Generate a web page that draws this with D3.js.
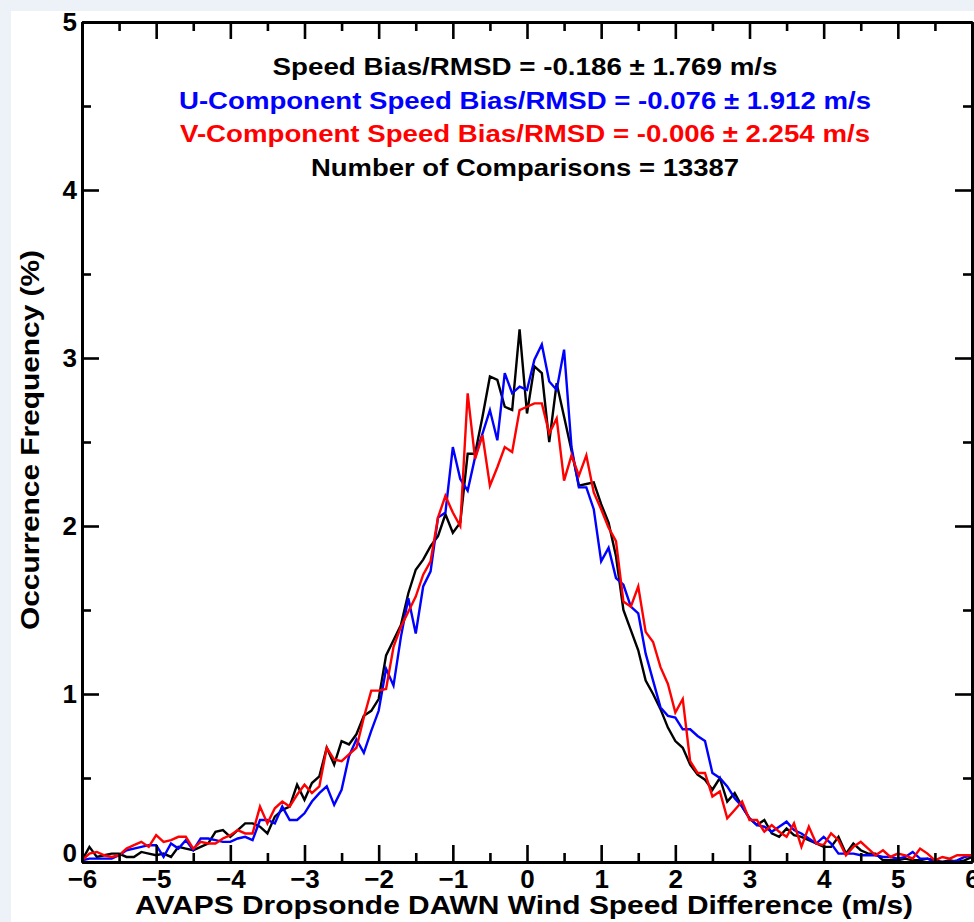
<!DOCTYPE html>
<html>
<head>
<meta charset="utf-8">
<script src="https://cdn.jsdelivr.net/npm/d3@7"></script>
<style>
  html, body { margin: 0; padding: 0; background: #edf2f8; }
  svg { display: block; font-family: "Liberation Sans", Arial, sans-serif; font-weight: bold; }
</style>
</head>
<body>
<svg id="chart" width="974" height="922"></svg>
<script>
// Histogram of dropsonde minus DAWN wind differences, 0.1 m/s bins from -6 to 6

const binCenters = d3.range(-60, 61).map(i => i / 10);

// occurrence frequency (%) per bin
const speedFreq = [
  0.01, 0.09, 0.03, 0.04, 0.05, 0.05, 0.03, 0.03, 0.06, 0.05,
  0.04, 0.05, 0.03, 0.09, 0.08, 0.07, 0.09, 0.11, 0.18, 0.19,
  0.15, 0.19, 0.23, 0.23, 0.21, 0.17, 0.27, 0.31, 0.33, 0.46,
  0.37, 0.47, 0.51, 0.68, 0.58, 0.72, 0.70, 0.76, 0.87, 0.90,
  0.97, 1.23, 1.32, 1.41, 1.60, 1.74, 1.80, 1.88, 1.94, 2.07,
  1.96, 2.02, 2.43, 2.43, 2.65, 2.89, 2.87, 2.71, 2.69, 3.17,
  2.67, 2.95, 2.91, 2.50, 2.85, 2.65, 2.45, 2.24, 2.25, 2.26,
  2.13, 2.02, 1.82, 1.50, 1.38, 1.26, 1.08, 1.00, 0.91, 0.80,
  0.72, 0.68, 0.58, 0.52, 0.49, 0.43, 0.50, 0.36, 0.41, 0.33,
  0.26, 0.22, 0.25, 0.17, 0.15, 0.20, 0.16, 0.15, 0.13, 0.11,
  0.09, 0.09, 0.15, 0.05, 0.11, 0.07, 0.05, 0.05, 0.01, 0.01,
  0.01, 0.02, 0.01, 0.01, 0.02, 0.01, 0.00, 0.01, 0.00, 0.01, 0.03
];

const uFreq = [
  0.01, 0.02, 0.02, 0.02, 0.02, 0.04, 0.07, 0.08, 0.09, 0.10,
  0.10, 0.03, 0.11, 0.08, 0.13, 0.07, 0.14, 0.14, 0.13, 0.12,
  0.12, 0.14, 0.15, 0.13, 0.25, 0.25, 0.23, 0.33, 0.25, 0.25,
  0.29, 0.36, 0.41, 0.45, 0.34, 0.43, 0.63, 0.73, 0.65, 0.78,
  0.90, 1.15, 1.05, 1.34, 1.57, 1.36, 1.64, 1.73, 2.05, 2.08,
  2.47, 2.28, 2.21, 2.41, 2.55, 2.69, 2.51, 2.91, 2.79, 2.83,
  2.81, 2.99, 3.08, 2.86, 2.81, 3.05, 2.47, 2.23, 2.23, 2.10,
  1.79, 1.87, 1.69, 1.65, 1.52, 1.48, 1.24, 1.08, 0.92, 0.87,
  0.86, 0.79, 0.79, 0.75, 0.72, 0.53, 0.50, 0.45, 0.38, 0.33,
  0.26, 0.22, 0.21, 0.18, 0.21, 0.24, 0.19, 0.17, 0.14, 0.11,
  0.15, 0.11, 0.05, 0.05, 0.05, 0.04, 0.04, 0.04, 0.03, 0.03,
  0.02, 0.03, 0.06, 0.02, 0.02, 0.00, 0.00, 0.00, 0.01, 0.03, 0.04
];

const vFreq = [
  0.01, 0.05, 0.06, 0.04, 0.03, 0.04, 0.08, 0.10, 0.12, 0.09,
  0.16, 0.12, 0.13, 0.15, 0.15, 0.08, 0.12, 0.11, 0.11, 0.14,
  0.16, 0.19, 0.17, 0.17, 0.33, 0.23, 0.32, 0.36, 0.33, 0.40,
  0.46, 0.41, 0.45, 0.68, 0.61, 0.60, 0.64, 0.68, 0.86, 1.02,
  1.02, 1.03, 1.28, 1.40, 1.49, 1.58, 1.71, 1.79, 2.05, 2.18,
  2.08, 2.00, 2.79, 2.40, 2.54, 2.24, 2.35, 2.47, 2.44, 2.69,
  2.71, 2.73, 2.73, 2.55, 2.64, 2.27, 2.42, 2.30, 2.42, 2.20,
  2.10, 1.99, 1.91, 1.55, 1.52, 1.64, 1.37, 1.31, 1.16, 1.06,
  0.89, 0.97, 0.60, 0.53, 0.53, 0.39, 0.42, 0.26, 0.31, 0.36,
  0.25, 0.25, 0.18, 0.22, 0.18, 0.15, 0.23, 0.09, 0.21, 0.11,
  0.10, 0.17, 0.13, 0.04, 0.09, 0.12, 0.08, 0.04, 0.07, 0.03,
  0.05, 0.04, 0.02, 0.08, 0.05, 0.01, 0.03, 0.02, 0.04, 0.04, 0.04
];

const seriesNames = ["speed", "u", "v"];
const seriesColors = ["#000000", "#0000ff", "#ff0000"];

const xTicks = [-6, -5, -4, -3, -2, -1, 0, 1, 2, 3, 4, 5, 6];
const xMinorTicks = [-5.5, -4.5, -3.5, -2.5, -1.5, -0.5, 0.5, 1.5, 2.5, 3.5, 4.5, 5.5];
const yTicks = [0, 1, 2, 3, 4, 5];
const yMinorTicks = [0.5, 1.5, 2.5, 3.5, 4.5];

const statLines = [
  "Speed Bias/RMSD = -0.186 \u00b1 1.769 m/s",
  "U-Component Speed Bias/RMSD = -0.076 \u00b1 1.912 m/s",
  "V-Component Speed Bias/RMSD = -0.006 \u00b1 2.254 m/s",
  "Number of Comparisons = 13387"
];
const statColors = ["#000000", "#0000ff", "#ff0000", "#000000"];
const statWidths = [505, 692, 690, 428]; // measured text extents in the reference

const xTitle = "AVAPS Dropsonde DAWN Wind Speed Difference (m/s)";
const yTitle = "Occurrence Frequency (%)";

// ---- drawing
const svg = d3.select("#chart");

// white panel over the pale page
svg.append("rect")
  .attr("x", 11).attr("y", 11)
  .attr("width", 974 - 11).attr("height", 922 - 11)
  .attr("fill", "#ffffff");

const x = d3.scaleLinear().domain([-6, 6]).range([82, 972]);
const y = d3.scaleLinear().domain([0, 5]).range([862, 22]);

// lines
const line = d3.line()
  .x(d => x(d[0]))
  .y(d => y(d[1]));

const allSeries = [speedFreq, uFreq, vFreq];
allSeries.forEach((vals, i) => {
  const pts = binCenters.map((b, j) => [b, vals[j]]).filter(p => p[1] != null);
  svg.append("path")
    .datum(pts)
    .attr("class", "series-" + seriesNames[i])
    .attr("fill", "none")
    .attr("stroke", seriesColors[i])
    .attr("stroke-width", 2.4)
    .attr("stroke-linejoin", "miter")
    .attr("d", line);
});

// axes: major ticks long, minor short, all pointing inward
const fmt = d3.format("d");
const axisStyle = g => {
  g.select(".domain").attr("stroke", "#000").attr("stroke-width", 3);
  g.selectAll(".tick line").attr("stroke", "#000").attr("stroke-width", 2.6);
  g.selectAll(".tick text")
    .attr("fill", "#000")
    .style("font-size", "26px")
    .style("font-weight", "bold")
    .style("font-family", '"Liberation Sans", Arial, sans-serif');
};

// bottom
svg.append("g")
  .attr("transform", `translate(0,${y(0)})`)
  .call(d3.axisBottom(x).tickValues(xTicks).tickFormat(fmt).tickSizeInner(-17).tickSizeOuter(0).tickPadding(8))
  .call(axisStyle);
svg.append("g")
  .attr("transform", `translate(0,${y(0)})`)
  .call(d3.axisBottom(x).tickValues(xMinorTicks).tickFormat("").tickSizeInner(-9).tickSizeOuter(0))
  .call(axisStyle);

// top
svg.append("g")
  .attr("transform", `translate(0,${y(5)})`)
  .call(d3.axisTop(x).tickValues(xTicks).tickFormat("").tickSizeInner(-17).tickSizeOuter(0))
  .call(axisStyle);
svg.append("g")
  .attr("transform", `translate(0,${y(5)})`)
  .call(d3.axisTop(x).tickValues(xMinorTicks).tickFormat("").tickSizeInner(-9).tickSizeOuter(0))
  .call(axisStyle);

// left
const leftAxis = svg.append("g")
  .attr("transform", `translate(${x(-6)},0)`)
  .call(d3.axisLeft(y).tickValues(yTicks).tickFormat(fmt).tickSizeInner(-17).tickSizeOuter(0).tickPadding(5))
  .call(axisStyle);
leftAxis.selectAll(".tick text")
  .attr("dy", d => d === 0 ? "-0.02em" : "0.34em");
svg.append("g")
  .attr("transform", `translate(${x(-6)},0)`)
  .call(d3.axisLeft(y).tickValues(yMinorTicks).tickFormat("").tickSizeInner(-9).tickSizeOuter(0))
  .call(axisStyle);

// right
svg.append("g")
  .attr("transform", `translate(${x(6)},0)`)
  .call(d3.axisRight(y).tickValues(yTicks).tickFormat("").tickSizeInner(-17).tickSizeOuter(0))
  .call(axisStyle);
svg.append("g")
  .attr("transform", `translate(${x(6)},0)`)
  .call(d3.axisRight(y).tickValues(yMinorTicks).tickFormat("").tickSizeInner(-9).tickSizeOuter(0))
  .call(axisStyle);

// axis titles
svg.append("text")
  .attr("x", 524)
  .attr("y", 914)
  .attr("text-anchor", "middle")
  .attr("textLength", 778)
  .attr("lengthAdjust", "spacingAndGlyphs")
  .style("font-size", "26px")
  .text(xTitle);

svg.append("text")
  .attr("transform", "translate(39,440) rotate(-90)")
  .attr("text-anchor", "middle")
  .attr("textLength", 380)
  .attr("lengthAdjust", "spacingAndGlyphs")
  .style("font-size", "26px")
  .text(yTitle);

// statistics block
svg.append("g")
  .selectAll("text")
  .data(statLines)
  .join("text")
  .attr("x", 525)
  .attr("y", (d, i) => 75 + i * 33.5)
  .attr("text-anchor", "middle")
  .attr("textLength", (d, i) => statWidths[i])
  .attr("lengthAdjust", "spacingAndGlyphs")
  .attr("fill", (d, i) => statColors[i])
  .style("font-size", "24px")
  .text(d => d);
</script>
</body>
</html>
